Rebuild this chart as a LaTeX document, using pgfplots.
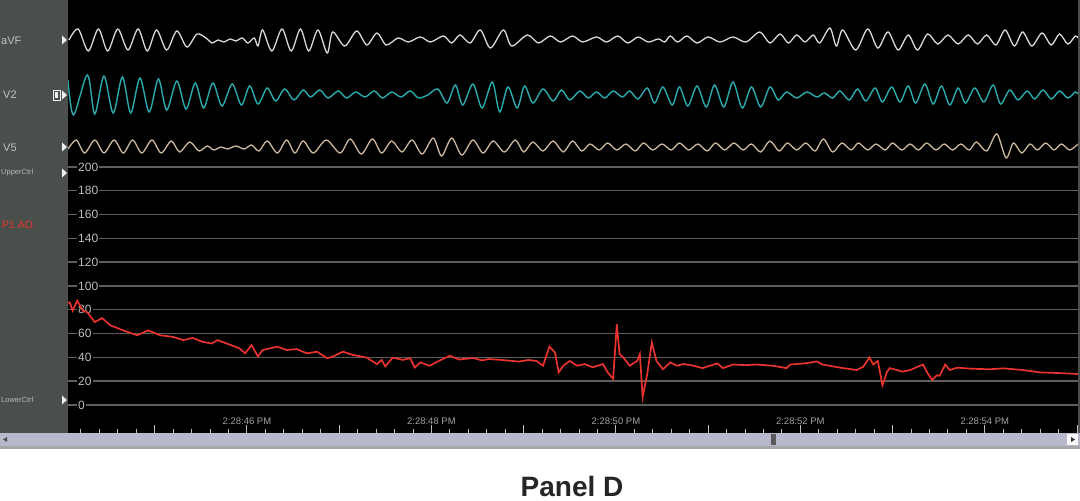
\documentclass[border=0pt]{standalone}
\usepackage{fontspec}
\setmainfont{Liberation Sans}
\usepackage{pgfplots}
\pgfplotsset{compat=1.18}

\definecolor{panelgray}{HTML}{4B4F4C}
\definecolor{avfcol}{HTML}{D8D8D4}
\definecolor{v2col}{HTML}{2BAAAE}
\definecolor{v5col}{HTML}{CDB79E}
\definecolor{aocol}{HTML}{E8332E}
\definecolor{gridgray}{HTML}{5E5E5E}
\definecolor{gridlight}{HTML}{D2D2D2}
\definecolor{ticktext}{HTML}{BDBDBD}
\definecolor{scroll}{HTML}{B8B8CC}

% one strip per ECG lead, 10pt per unit, same time axis as the pressure plot
\pgfplotsset{
  ecg/.style={scale only axis, width=1010pt, height=50pt, anchor=south west,
    xmin=44.06, xmax=55.01, ymin=-2.5, ymax=2.5, axis lines=none},
}

\begin{document}
\begin{tikzpicture}[x=1pt,y=1pt]
\useasboundingbox (0,0) rectangle (1080,501);
\fill[white] (0,0) rectangle (1080,501);
\fill[panelgray] (0,68) rectangle (68,501);
\fill[black] (68,68) rectangle (1078,501);
\fill[panelgray] (1078,68) rectangle (1080,501);
% scroll bar
\fill[scroll] (0,55) rectangle (1080,68);
\fill[gray!70] (0,52) rectangle (1080,55);
\fill[black!70] (3,61.5) -- (7,64) -- (7,59) -- cycle;
\fill[white!90!scroll] (1067,56) rectangle (1078,67);
\fill[black!80] (1075,61.5) -- (1071,64) -- (1071,59) -- cycle;
\fill[black!65] (771,56) rectangle (776,67);

% left panel labels
\node[anchor=west, text=avfcol!90!black, font=\fontsize{11}{11}\selectfont, inner sep=0] at (1,460) {aVF};
\node[anchor=west, text=avfcol!90!black, font=\fontsize{11}{11}\selectfont, inner sep=0] at (3,406) {V2};
\node[anchor=west, text=avfcol!90!black, font=\fontsize{11}{11}\selectfont, inner sep=0] at (3,353) {V5};
\node[anchor=west, text=gray!55, font=\fontsize{7.5}{7.5}\selectfont, inner sep=0] at (1,328) {UpperCtrl};
\node[anchor=west, text=aocol, font=\fontsize{10.5}{10.5}\selectfont, inner sep=0] at (2,276) {P1 AO};
\node[anchor=west, text=gray!55, font=\fontsize{7.5}{7.5}\selectfont, inner sep=0] at (1,101) {LowerCtrl};
\foreach \yy in {461,406,354,328,101}
  \fill[gray!12] (62,\yy-4.5) -- (67,\yy) -- (62,\yy+4.5) -- cycle;
\draw[gray!12, line width=0.8pt] (53,401) rectangle (60,411);
\fill[gray!12] (55,403) rectangle (58,409);

% arterial pressure and time axis
\begin{axis}[at={(68pt,68pt)}, anchor=south west, scale only axis,
  width=1010pt, height=433pt,
  xmin=44.06, xmax=55.01, ymin=-23.53, ymax=340.34,
  axis line style={draw=none},
  ytick={0,20,40,60,80,120,140,160,180}, extra y ticks={100,200},
  ymajorgrids, major grid style={gridgray, line width=1.4pt},
  extra y tick style={grid style={gridlight, line width=1.4pt}},
  ytick style={draw=none},
  yticklabel style={anchor=west, xshift=9pt, fill=black, inner sep=1pt,
    text=ticktext, font=\fontsize{12}{12}\selectfont},
  /pgf/number format/assume math mode=true,
  xtick={45,...,55},
  xticklabels={,2:28:46 PM,,2:28:48 PM,,2:28:50 PM,,2:28:52 PM,,2:28:54 PM,},
  minor xtick={44.2,44.4,...,55.0}, xtick pos=left, tick align=inside,
  major tick length=8pt, minor tick length=4pt,
  xtick style={ticktext, line width=0.9pt},
  minor x tick style={ticktext, line width=0.9pt},
  xticklabel style={anchor=south, yshift=5pt, text=ticktext!85!black,
    font=\fontsize{9.5}{9.5}\selectfont},
]
\addplot[aocol, line width=1.7pt] coordinates {
(44.06,86) (44.08,86.2) (44.11,79.3) (44.16,87.6) (44.22,79.3) (44.27,77.9)
(44.35,69.7) (44.43,73) (44.52,66.9) (44.66,62.7) (44.81,58.6) (44.93,62.7)
(45.06,58.6) (45.20,57.2) (45.31,54.5) (45.41,56.4) (45.52,53) (45.62,51.7)
(45.68,54.5) (45.78,51.7) (45.92,47.6) (45.98,43.4) (46.05,50.3) (46.12,40.7)
(46.17,46.2) (46.33,49) (46.43,46.2) (46.54,47) (46.65,43.4) (46.76,44.8)
(46.87,39.3) (46.93,40.7) (47.04,44.8) (47.15,42) (47.30,39.8) (47.41,34.3)
(47.46,37.9) (47.50,32.4) (47.58,39.8) (47.69,37.9) (47.77,39.3) (47.82,31.5)
(47.88,35.8) (47.98,33) (48.08,37) (48.20,41.4) (48.30,38.2) (48.45,39.5)
(48.55,37.5) (48.62,38.6) (48.74,38) (48.85,37.2) (48.95,36.5) (49.05,37.8)
(49.14,37) (49.21,33) (49.28,49) (49.34,44) (49.38,27.5) (49.43,33) (49.50,37)
(49.58,33) (49.66,34.4) (49.75,31.7) (49.86,34.4) (49.91,27.5) (49.97,22)
(50.01,67.8) (50.04,42.8) (50.08,40) (50.15,33) (50.23,37) (50.26,42.8)
(50.29,6.7) (50.34,26) (50.39,52.5) (50.44,37) (50.51,30) (50.59,35.8)
(50.66,33) (50.73,34.4) (50.80,33.7) (50.94,31) (51.10,35) (51.16,31)
(51.27,34) (51.40,33.5) (51.53,34) (51.70,33) (51.85,31) (51.89,34)
(52.05,35) (52.18,36.6) (52.24,34) (52.43,31.4) (52.61,29.4) (52.68,32)
(52.75,40) (52.79,34) (52.84,37) (52.89,16.6) (52.94,28) (52.97,31)
(53.11,28) (53.19,29.4) (53.33,34) (53.38,26.6) (53.43,21) (53.48,25)
(53.51,24.6) (53.57,34) (53.62,29.4) (53.70,31.4) (53.85,30.5) (54.05,30)
(54.20,30.8) (54.41,29.4) (54.60,27.4) (54.75,27) (54.90,26.5) (55.01,26)
};
\end{axis}

% aVF
\begin{axis}[ecg, at={(68pt,436pt)}]
\addplot[avfcol, line width=1.3pt, smooth] coordinates {
(44.07,0.0) (44.17,1.1) (44.28,-1.1) (44.39,1.1) (44.49,-1.1) (44.60,1.1)
(44.71,-1.0) (44.82,1.1) (44.92,-1.1) (45.02,1.0) (45.13,-1.0) (45.24,0.9)
(45.35,-0.7) (45.46,0.6) (45.57,0.1) (45.62,-0.3) (45.69,0.0) (45.75,-0.2)
(45.82,0.1) (45.88,-0.1) (45.95,0.2) (46.01,-0.3) (46.08,0.2) (46.12,-0.6)
(46.17,1.0) (46.27,-1.1) (46.38,1.1) (46.48,-1.1) (46.58,1.1) (46.67,-1.1)
(46.77,1.0) (46.87,-1.3) (46.93,0.8) (47.06,-0.6) (47.19,0.9) (47.30,-0.5)
(47.41,0.7) (47.51,-0.5) (47.64,0.2) (47.75,-0.2) (47.88,0.3) (47.99,-0.2)
(48.13,0.4) (48.22,-0.3) (48.31,0.5) (48.42,-0.3) (48.53,1.0) (48.64,-0.8)
(48.78,1.0) (48.87,-0.6) (49.04,0.5) (49.16,-0.3) (49.29,0.4) (49.40,-0.2)
(49.53,0.4) (49.64,-0.2) (49.79,0.3) (49.90,-0.2) (50.02,0.4) (50.13,-0.3)
(50.24,0.3) (50.35,-0.2) (50.46,0.1) (50.53,-0.2) (50.59,0.4) (50.67,-0.2)
(50.77,0.4) (50.88,-0.3) (51.00,0.3) (51.13,-0.2) (51.27,0.3) (51.41,-0.2)
(51.56,0.8) (51.67,-0.3) (51.78,0.6) (51.87,-0.3) (51.96,0.5) (52.05,-0.2)
(52.14,0.5) (52.21,-0.3) (52.32,1.2) (52.39,-0.6) (52.46,1.0) (52.60,-1.0)
(52.73,1.1) (52.84,-0.8) (52.95,0.8) (53.06,-1.0) (53.17,0.5) (53.27,-1.0)
(53.38,0.6) (53.49,-0.4) (53.60,0.5) (53.71,-0.4) (53.82,0.5) (53.92,-0.4)
(54.02,0.5) (54.12,-0.5) (54.22,1.0) (54.32,-0.6) (54.41,0.8) (54.51,-0.6)
(54.62,0.7) (54.72,-0.5) (54.81,0.6) (54.90,-0.4) (54.98,0.4) (55.01,0.2)
};
\end{axis}

% V2
\begin{axis}[ecg, at={(68pt,381pt)}]
\addplot[v2col, line width=1.4pt, smooth] coordinates {
(44.06,1.5) (44.12,-2.0) (44.27,2.0) (44.35,-1.9) (44.45,1.9) (44.55,-1.8)
(44.65,1.8) (44.74,-1.8) (44.84,1.7) (44.94,-1.7) (45.04,1.6) (45.13,-1.5)
(45.24,1.4) (45.34,-1.4) (45.44,1.2) (45.53,-1.3) (45.63,1.2) (45.73,-1.1)
(45.84,1.1) (45.94,-1.0) (46.03,0.9) (46.12,-0.9) (46.22,0.7) (46.31,-0.6)
(46.41,0.6) (46.51,-0.5) (46.61,0.5) (46.69,-0.2) (46.79,0.5) (46.88,-0.3)
(46.99,0.4) (47.08,-0.3) (47.18,0.3) (47.28,-0.2) (47.38,0.4) (47.47,-0.3)
(47.57,0.3) (47.67,-0.2) (47.77,0.4) (47.86,-0.3) (47.96,0.0) (48.07,0.6)
(48.17,-0.8) (48.26,1.0) (48.34,-1.0) (48.45,1.1) (48.55,-1.3) (48.66,1.3)
(48.74,-1.7) (48.83,0.8) (48.93,-1.3) (49.01,0.9) (49.10,-0.8) (49.21,0.6)
(49.32,-0.6) (49.41,0.5) (49.50,-0.5) (49.61,0.4) (49.70,-0.3) (49.79,0.3)
(49.88,-0.3) (49.97,0.4) (50.07,-0.2) (50.15,0.4) (50.24,-0.4) (50.34,0.7)
(50.42,-0.8) (50.51,0.8) (50.61,-1.0) (50.69,0.8) (50.78,-1.1) (50.88,0.9)
(50.98,-1.2) (51.07,1.0) (51.17,-1.2) (51.27,1.3) (51.37,-1.3) (51.47,0.8)
(51.57,-1.2) (51.67,0.8) (51.76,-0.5) (51.85,0.3) (51.96,-0.3) (52.07,0.3)
(52.18,-0.2) (52.26,0.2) (52.35,-0.3) (52.43,0.4) (52.53,-0.5) (52.62,0.6)
(52.71,-0.6) (52.81,0.7) (52.89,-0.7) (52.99,0.8) (53.08,-0.7) (53.17,0.9)
(53.25,-0.8) (53.35,1.1) (53.44,-0.9) (53.53,0.9) (53.62,-1.0) (53.71,0.7)
(53.79,-0.8) (53.89,0.7) (53.99,-0.7) (54.09,1.0) (54.17,-0.9) (54.27,0.5)
(54.36,-0.5) (54.46,0.4) (54.54,-0.4) (54.63,0.5) (54.72,-0.4) (54.81,0.4)
(54.90,-0.3) (54.98,0.3) (55.01,0.1)
};
\end{axis}

% V5
\begin{axis}[ecg, at={(68pt,329pt)}]
\addplot[v5col, line width=1.3pt, smooth] coordinates {
(44.06,-0.2) (44.15,0.7) (44.24,-0.6) (44.35,0.7) (44.45,-0.6) (44.56,0.7)
(44.66,-0.6) (44.76,0.7) (44.86,-0.6) (44.97,0.7) (45.07,-0.6) (45.18,0.6)
(45.27,-0.5) (45.38,0.5) (45.48,-0.4) (45.57,0.1) (45.64,-0.3) (45.72,0.0)
(45.79,-0.2) (45.88,0.1) (45.97,-0.2) (46.05,0.2) (46.13,-0.4) (46.22,0.6)
(46.33,-0.6) (46.43,0.7) (46.52,-0.6) (46.61,0.6) (46.72,-0.6) (46.86,0.7)
(47.01,-0.6) (47.12,0.8) (47.24,-0.7) (47.36,0.8) (47.46,-0.6) (47.57,0.6)
(47.68,-0.5) (47.79,0.7) (47.90,-0.7) (48.02,0.9) (48.11,-0.9) (48.22,0.9)
(48.33,-0.8) (48.45,0.7) (48.56,-0.6) (48.67,0.6) (48.79,-0.5) (48.91,0.7)
(49.00,-0.5) (49.10,0.5) (49.21,-0.4) (49.32,0.6) (49.43,-0.5) (49.53,0.6)
(49.63,-0.4) (49.72,0.3) (49.82,-0.3) (49.91,0.4) (50.01,-0.3) (50.11,0.3)
(50.21,-0.4) (50.30,0.4) (50.40,-0.3) (50.50,0.3) (50.60,-0.3) (50.69,0.4)
(50.79,-0.3) (50.89,0.3) (50.99,-0.4) (51.08,0.4) (51.18,-0.3) (51.28,0.4)
(51.38,-0.3) (51.47,0.3) (51.57,-0.5) (51.67,0.6) (51.77,-0.4) (51.86,0.4)
(51.96,-0.3) (52.06,0.4) (52.16,-0.4) (52.25,0.8) (52.35,-0.5) (52.45,0.4)
(52.55,-0.3) (52.63,0.4) (52.73,-0.3) (52.82,0.3) (52.92,-0.3) (53.00,0.4)
(53.10,-0.3) (53.19,0.3) (53.28,-0.3) (53.37,0.4) (53.47,-0.3) (53.56,0.3)
(53.65,-0.3) (53.74,0.3) (53.83,-0.3) (53.91,0.5) (54.02,-0.4) (54.13,1.3)
(54.23,-1.1) (54.31,0.4) (54.40,-0.6) (54.49,0.3) (54.57,-0.3) (54.66,0.4)
(54.75,-0.3) (54.83,0.3) (54.92,-0.3) (55.01,0.3)
};
\end{axis}

\node[font=\fontsize{28}{30}\selectfont\bfseries, text=black!85] at (572,15) {Panel D};
\end{tikzpicture}
\end{document}
